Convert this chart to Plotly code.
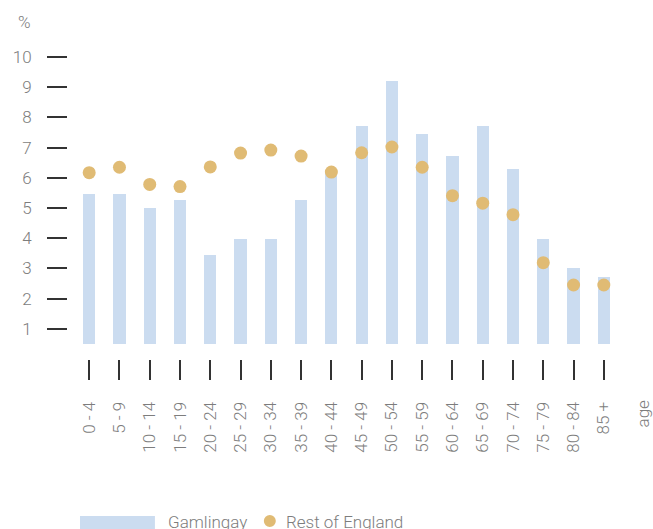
import plotly.graph_objects as go

categories = ["0 - 4", "5 - 9", "10 - 14", "15 - 19", "20 - 24", "25 - 29", "30 - 34",
              "35 - 39", "40 - 44", "45 - 49", "50 - 54", "55 - 59", "60 - 64",
              "65 - 69", "70 - 74", "75 - 79", "80 - 84", "85 +"]
gamlingay = [5.46, 5.46, 5.0, 5.26, 3.44, 3.97, 3.97, 5.26, 6.22, 7.72, 9.2, 7.45,
             6.72, 7.72, 6.29, 3.97, 3.01, 2.72]
rest_of_england = [6.17, 6.35, 5.78, 5.71, 6.36, 6.82, 6.92, 6.72, 6.19, 6.83, 7.02,
                   6.35, 5.41, 5.16, 4.78, 3.19, 2.45, 2.45]
y_ticks = [1, 2, 3, 4, 5, 6, 7, 8, 9, 10]
bar_base = 0.5

BAR = "#cbdcf0"
DOT = "#e0bb74"
GREY = "#7d7d7d"
FONT = "Roboto"

W, H = 653, 529
# plot area in reference pixels
PL, PR, PT, PB = 68, 625.5, 51, 359
L, T = PL, PT
R = W - PR
B = H - PB
pw, ph = PR - PL, PB - PT

def px_x(p):
    return (p - PL) / pw

def px_y(p):
    return (PB - p) / ph

fig = go.Figure()
fig.add_trace(go.Bar(
    x=categories, y=[v - bar_base for v in gamlingay], base=bar_base,
    marker=dict(color=BAR, line=dict(width=0)), width=0.4, name="Gamlingay",
    showlegend=False))
fig.add_trace(go.Scatter(
    x=categories, y=rest_of_england, mode="markers",
    marker=dict(color=DOT, size=13), name="Rest of England", showlegend=False))

font = dict(family=FONT, size=17, color=GREY, weight=300)

fig.update_layout(
    width=W, height=H,
    margin=dict(l=L, r=R, t=T, b=B, autoexpand=False),
    plot_bgcolor="white", paper_bgcolor="white",
    font=font,
    xaxis=dict(range=[-0.7, 17.7], showgrid=False, zeroline=False, showline=False,
               ticks="outside", ticklen=20, tickwidth=1.5, tickcolor="#333",
               tickangle=-90, tickfont=font, ticklabelstandoff=15, automargin=False),
    yaxis=dict(range=[0, 10.2], tickvals=y_ticks, showgrid=False, zeroline=False,
               showline=False, ticks="outside", ticklen=20, tickwidth=1.5,
               tickcolor="#333", tickfont=font, ticklabelstandoff=12, automargin=False),
    bargap=0,
)

fig.add_annotation(text="%", xref="paper", yref="paper", x=px_x(24), y=px_y(22),
                   showarrow=False, font=font, xanchor="center", yanchor="middle")
fig.add_annotation(text="age", xref="paper", yref="paper", x=px_x(644), y=px_y(413),
                   showarrow=False, font=font, textangle=-90,
                   xanchor="center", yanchor="middle")

# legend
fig.add_shape(type="rect", xref="paper", yref="paper",
              x0=px_x(80), x1=px_x(155), y0=px_y(530), y1=px_y(516),
              fillcolor=BAR, line=dict(width=0))
fig.add_annotation(text="Gamlingay", xref="paper", yref="paper", x=px_x(166), y=px_y(522),
                   showarrow=False, font=font, xanchor="left", yanchor="middle")
fig.add_shape(type="circle", xref="paper", yref="paper",
              x0=px_x(264), x1=px_x(276), y0=px_y(527), y1=px_y(515),
              fillcolor=DOT, line=dict(width=0))
fig.add_annotation(text="Rest of England", xref="paper", yref="paper", x=px_x(284), y=px_y(522),
                   showarrow=False, font=font, xanchor="left", yanchor="middle")

fig.write_html("out.html", config={"displayModeBar": False},
               post_script="document.body.style.margin='0';document.body.style.overflow='hidden';")
